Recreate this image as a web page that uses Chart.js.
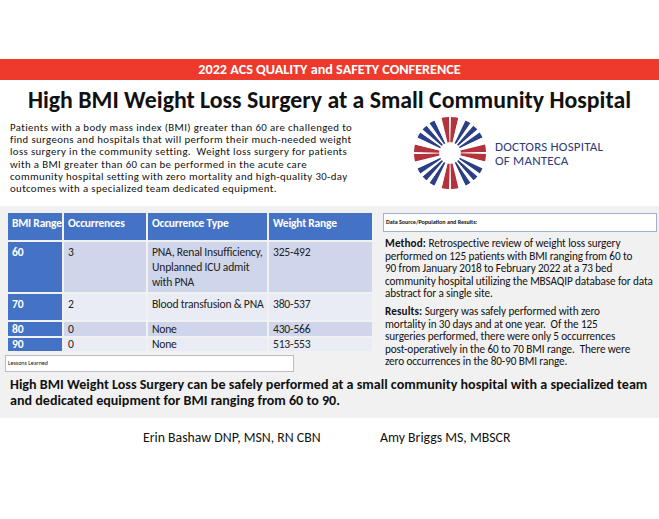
<!DOCTYPE html>
<html>
<head>
<meta charset="utf-8">
<script src="https://cdn.jsdelivr.net/npm/chart.js@4.4.1/dist/chart.umd.min.js"></script>
<style>
  html, body { margin: 0; padding: 0; }
  body { width: 659px; height: 519px; position: relative; background: #fff; overflow: hidden;
         font-family: Carlito, Lato, sans-serif; color: #111; }
  .abs { position: absolute; }
  #banner { left: 0; top: 59px; width: 659px; height: 21px; background: #ee3a2c; color: #fff;
            font-weight: bold; font-size: 14.2px; line-height: 21px; text-align: center; }
  #title { left: 0; top: 86px; width: 659px; text-align: center; font-weight: bold; font-size: 23.8px; line-height: 28px; }
  #intro { left: 10px; top: 122px; font-size: 10.8px; letter-spacing: 0.38px; line-height: 12.2px; white-space: nowrap; }
  #panel { left: 0; top: 206px; width: 659px; height: 212px; background: #f1f1f1; }
  #logoText { left: 495px; top: 140px; color: #2c3b7c; font-size: 13px; line-height: 14px; letter-spacing: 0.2px; }
  .cell { position: absolute; box-sizing: border-box; padding: 3px 4px; font-size: 11.6px; letter-spacing: -0.2px;
          line-height: 15px; white-space: nowrap; color: #222; }
  .hd { background: #4472c4; color: #fff; font-weight: bold; font-size: 11.5px; padding-top: 3px; }
  .key { background: #4472c4; color: #fff; font-weight: bold; }
  .ra { background: #cfd5ea; }
  .rb { background: #e9ebf5; }
  #lessons { left: 5px; top: 355px; width: 285px; height: 15px; background: #fff; border: 1px solid #b8bec8;
             font-size: 6px; line-height: 15px; padding-left: 2px; }
  #dsbox { left: 383px; top: 213px; width: 270px; height: 17px; background: #fff; border: 1px solid #9db2d6;
           font-size: 6px; font-weight: bold; line-height: 17px; padding-left: 2px; }
  #right { left: 385px; top: 237px; font-size: 11.2px; letter-spacing: -0.1px; line-height: 12.6px; white-space: nowrap; }
  #right b { letter-spacing: 0.1px; }
  #concl { left: 10px; top: 377px; font-size: 14.1px; font-weight: bold; line-height: 15.5px; white-space: nowrap; }
  #auth1 { left: 143px; top: 429px; font-size: 13.8px; }
  #auth2 { left: 380px; top: 429px; font-size: 13.8px; }
  #logo { left: 414px; top: 117px; width: 72px; height: 72px; }
</style>
</head>
<body>
<div id="banner" class="abs">2022 ACS QUALITY and SAFETY CONFERENCE</div>
<div id="title" class="abs">High BMI Weight Loss Surgery at a Small Community Hospital</div>
<div id="intro" class="abs">Patients with a body mass index (BMI) greater than 60 are challenged to<br>find surgeons and hospitals that will perform their much-needed weight<br>loss surgery in the community setting.&nbsp; Weight loss surgery for patients<br>with a BMI greater than 60 can be performed in the acute care<br>community hospital setting with zero mortality and high-quality 30-day<br>outcomes with a specialized team dedicated equipment.</div>
<div id="logo" class="abs"><canvas id="logoChart" width="72" height="72"></canvas></div>
<div id="logoText" class="abs">DOCTORS HOSPITAL<br>OF MANTECA</div>
<div id="panel" class="abs"></div>
<div id="tbl"></div>
<div id="lessons" class="abs">Lessons Learned</div>
<div id="dsbox" class="abs">Data Source/Population and Results:</div>
<div id="right" class="abs"><b>Method:</b> Retrospective review of weight loss surgery<br>performed on 125 patients with BMI ranging from 60 to<br>90 from January 2018 to February 2022 at a 73 bed<br>community hospital utilizing the MBSAQIP database for data<br>abstract for a single site.<div style="height:5px"></div><b>Results:</b> Surgery was safely performed with zero<br>mortality in 30 days and at one year.&nbsp; Of the 125<br>surgeries performed, there were only 5 occurrences<br>post-operatively in the 60 to 70 BMI range.&nbsp; There were<br>zero occurrences in the 80-90 BMI range.</div>
<div id="concl" class="abs">High BMI Weight Loss Surgery can be safely performed at a small community hospital with a specialized team<br>and dedicated equipment for BMI ranging from 60 to 90.</div>
<div id="auth1" class="abs">Erin Bashaw DNP, MSN, RN CBN</div>
<div id="auth2" class="abs">Amy Briggs MS, MBSCR</div>
<script>
// table data
const headers = ["BMI Range", "Occurrences", "Occurrence Type", "Weight Range"];
const bmiRanges = ["60", "70", "80", "90"];
const occurrences = [3, 2, 0, 0];
const occurrenceTypes = ["PNA, Renal Insufficiency,<br>Unplanned ICU admit<br>with PNA", "Blood transfusion &amp; PNA", "None", "None"];
const weightRanges = ["325-492", "380-537", "430-566", "513-553"];

// logo rays, one quarter (degrees), repeated 4 times
const logoArcs = [1.5, 12, 12, 9, 6, 9, 6, 9, 12, 12, 1.5];
const logoColors = ["#fff", "#b3333d", "#fff", "#2a3f86", "#fff", "#2a3f86", "#fff", "#2a3f86", "#fff", "#b3333d", "#fff"];

// table grid (left/right edges of columns, top/bottom of rows)
const colX = [[8, 62], [64, 146], [148, 267], [269, 372]];
const rowY = [[213, 240], [242, 292], [294, 320], [322, 336], [338, 351]];

const tbl = document.getElementById("tbl");
function cell(x, y, cls, txt) {
  const d = document.createElement("div");
  d.className = "cell " + cls;
  d.style.left = x[0] + "px"; d.style.top = y[0] + "px";
  d.style.width = (x[1] - x[0]) + "px"; d.style.height = (y[1] - y[0]) + "px";
  d.innerHTML = txt;
  if (y[1] - y[0] < 16) { d.style.paddingTop = "0px"; d.style.lineHeight = (y[1] - y[0]) + "px"; }
  tbl.appendChild(d);
}
headers.forEach((h, i) => cell(colX[i], rowY[0], "hd", h));
bmiRanges.forEach((b, i) => {
  const rc = i % 2 ? "rb" : "ra";
  const y = rowY[i + 1];
  cell(colX[0], y, "key", b);
  cell(colX[1], y, rc, occurrences[i]);
  cell(colX[2], y, rc, occurrenceTypes[i]);
  cell(colX[3], y, rc, weightRanges[i]);
});

const arcs = [], cols = [];
for (let q = 0; q < 4; q++) { arcs.push(...logoArcs); cols.push(...logoColors); }

new Chart(document.getElementById("logoChart"), {
  type: 'doughnut',
  data: { datasets: [{ data: arcs, backgroundColor: cols, borderWidth: 0 }] },
  options: {
    responsive: false,
    animation: false,
    cutout: '30%',
    plugins: { legend: { display: false }, tooltip: { enabled: false } }
  }
});
</script>
</body>
</html>
